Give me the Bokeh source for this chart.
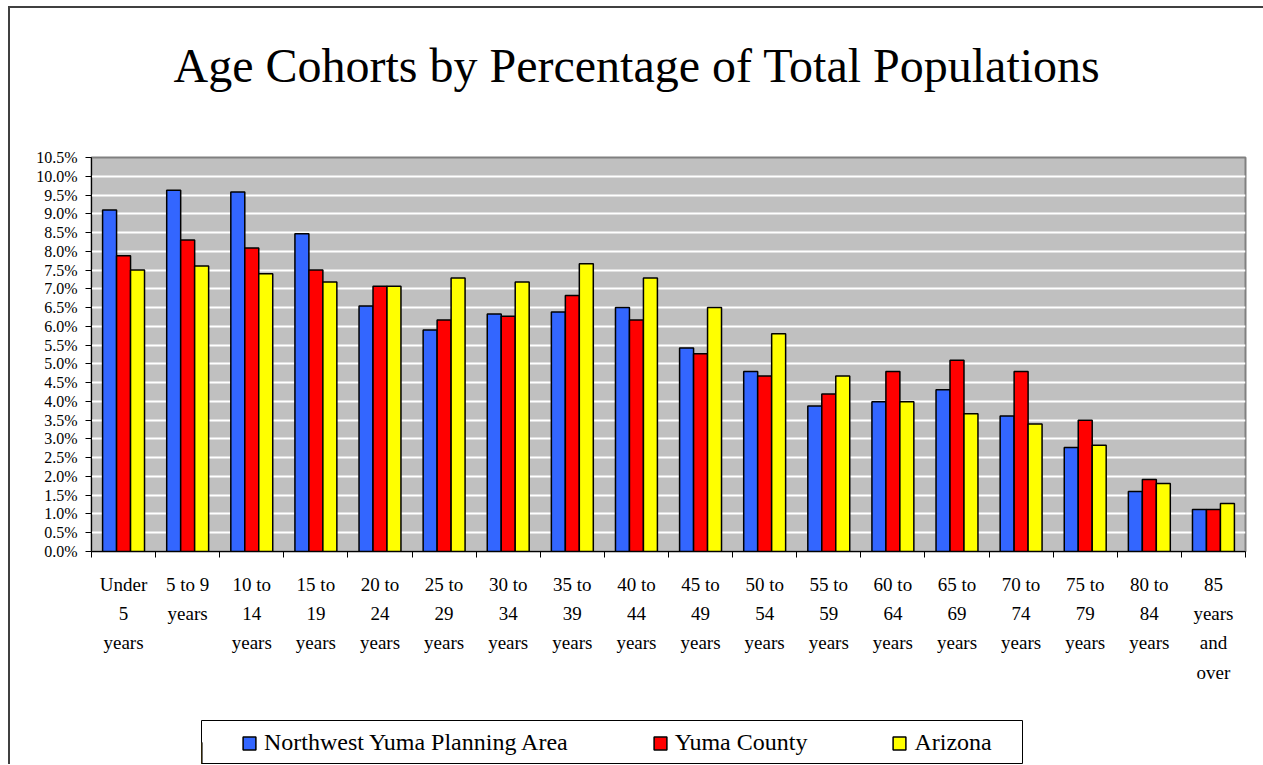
from bokeh.plotting import figure
from bokeh.layouts import column
from bokeh.models import (ColumnDataSource, FixedTicker, PrintfTickFormatter,
                          Legend, LegendItem, Title)
from bokeh.transform import dodge
from bokeh.embed import file_html
from bokeh.resources import INLINE

# Age cohorts (tick labels, wrapped as on the axis)
categories = [
    "Under\n5\nyears", "5 to 9\nyears", "10 to\n14\nyears", "15 to\n19\nyears",
    "20 to\n24\nyears", "25 to\n29\nyears", "30 to\n34\nyears", "35 to\n39\nyears",
    "40 to\n44\nyears", "45 to\n49\nyears", "50 to\n54\nyears", "55 to\n59\nyears",
    "60 to\n64\nyears", "65 to\n69\nyears", "70 to\n74\nyears", "75 to\n79\nyears",
    "80 to\n84\nyears", "85\nyears\nand\nover",
]

# Share of total population in each cohort (%)
northwest_yuma = [9.10, 9.63, 9.58, 8.47, 6.54, 5.90, 6.33, 6.38, 6.50,
                  5.42, 4.80, 3.88, 3.99, 4.31, 3.61, 2.77, 1.60, 1.12]
yuma_county = [7.88, 8.30, 8.09, 7.50, 7.07, 6.17, 6.27, 6.82, 6.17,
               5.27, 4.68, 4.20, 4.80, 5.10, 4.80, 3.50, 1.92, 1.12]
arizona = [7.50, 7.61, 7.40, 7.18, 7.07, 7.29, 7.18, 7.67, 7.29,
           6.50, 5.80, 4.68, 3.99, 3.67, 3.40, 2.83, 1.81, 1.28]

series_names = ["Northwest Yuma Planning Area", "Yuma County", "Arizona"]
series_colors = ["#3366FF", "#FF0000", "#FFFF00"]

y_ticks = [i * 0.5 for i in range(22)]

SERIF = "Liberation Serif"

centers = [i + 0.5 for i in range(len(categories))]
source = ColumnDataSource(data=dict(
    x=centers,
    nw=northwest_yuma,
    yc=yuma_county,
    az=arizona,
))

# ---- main bar chart ----
p = figure(
    width=1253, height=700,
    x_range=(0, len(categories)), y_range=(0, 10.5),
    output_backend="svg", toolbar_location=None,
    min_border_left=81, min_border_right=18,
    min_border_top=149, min_border_bottom=157,
    background_fill_color="#C0C0C0",
    border_fill_color="white",
    frame_align=False,
    title=None,
)

# blank band between the plot area and the heading
p.add_layout(Title(text=" ", text_font_size="10px", standoff=48), "above")
p.add_layout(Title(
    text="Age Cohorts by Percentage of Total Populations",
    text_font=SERIF, text_font_size="48px", text_font_style="normal",
    text_color="black", align="left", offset=82, standoff=10,
), "above")

p.outline_line_color = "#808080"
p.outline_line_width = 2

bar_w = 0.218
renderers = []
for field, offset, color in zip(["nw", "yc", "az"], [-bar_w, 0.0, bar_w], series_colors):
    r = p.vbar(x=dodge("x", offset), top=field, width=bar_w, bottom=0,
               source=source, fill_color=color, line_color="black", line_width=1.5)
    renderers.append(r)

# grid
p.xgrid.visible = False
p.ygrid.grid_line_color = "white"
p.ygrid.grid_line_width = 2
p.ygrid.ticker = FixedTicker(ticks=y_ticks)

# y axis
p.yaxis.ticker = FixedTicker(ticks=y_ticks)
p.yaxis.formatter = PrintfTickFormatter(format="%.1f%%")
p.yaxis.major_label_text_font = SERIF
p.yaxis.major_label_text_font_size = "16px"
p.yaxis.major_label_text_color = "black"
p.yaxis.major_tick_out = 6
p.yaxis.major_tick_in = 0
p.yaxis.minor_tick_line_color = None
p.yaxis.axis_line_color = "black"
p.yaxis.major_tick_line_color = "black"
p.yaxis.major_label_standoff = 8

# x axis: labels at cohort centres, tick marks between cohorts
p.xaxis.ticker = FixedTicker(ticks=centers,
                             minor_ticks=list(range(len(categories) + 1)))
p.xaxis.major_label_overrides = {c: lab for c, lab in zip(centers, categories)}
p.xaxis.major_tick_out = 0
p.xaxis.major_tick_in = 0
p.xaxis.minor_tick_out = 6
p.xaxis.minor_tick_in = 0
p.xaxis.minor_tick_line_color = "black"
p.xaxis.axis_line_color = "black"
p.xaxis.major_label_text_font = SERIF
p.xaxis.major_label_text_font_size = "19px"
p.xaxis.major_label_text_color = "black"
p.xaxis.major_label_text_line_height = 1.4
p.xaxis.major_label_standoff = 16

# ---- legend strip (its frame outline is the legend box) ----
leg = figure(
    width=1253, height=56,
    x_range=(0, 1), y_range=(0, 1),
    output_backend="svg", toolbar_location=None,
    x_axis_location=None, y_axis_location=None,
    min_border_left=191, min_border_right=241,
    min_border_top=12, min_border_bottom=0,
    background_fill_color="white", border_fill_color="white",
    outline_line_color="black", outline_line_width=1,
    frame_align=False,
)
leg.xgrid.visible = False
leg.ygrid.visible = False
# swatch renderers for the legend keys (their single bar sits outside the view)
swatches = []
for color in series_colors:
    swatches.append(leg.vbar(x=[-5], top=[0.5], width=0.5, fill_color=color,
                             line_color="black", line_width=1.5))

legend = Legend(
    items=[LegendItem(label=n, renderers=[r]) for n, r in zip(series_names, swatches)],
    location=(40, 8), orientation="horizontal",
    label_text_font=SERIF, label_text_font_size="24px", label_text_color="black",
    glyph_width=16, glyph_height=16, label_standoff=7,
    spacing=84, padding=0, margin=0,
    border_line_color=None, background_fill_alpha=0,
)
leg.add_layout(legend)

layout = column(
    p, leg, spacing=0,
    margin=(6, 0, 0, 8),
    styles={"border-left": "2px solid #404040", "border-top": "2px solid #404040"},
)

open("out.html", "w").write(file_html(layout, INLINE))
